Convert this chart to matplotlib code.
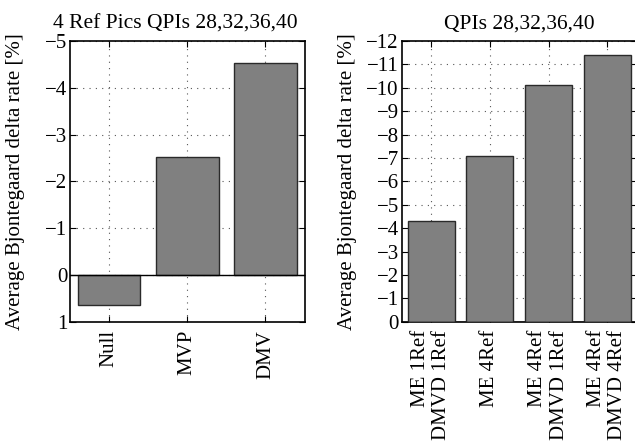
import matplotlib
matplotlib.use("Agg")
import matplotlib.pyplot as plt

plt.rcParams['font.family'] = ['Liberation Serif', 'DejaVu Serif']
plt.rcParams['axes.unicode_minus'] = True

left_title = "4 Ref Pics QPIs 28,32,36,40"
left_cats = ["Null", "MVP", "DMV"]
left_vals = [0.65, -2.52, -4.52]
left_yticks = [-5, -4, -3, -2, -1, 0, 1]

right_title = "QPIs 28,32,36,40"
right_cats = ["ME 1Ref\nDMVD 1Ref", "ME 4Ref", "ME 4Ref\nDMVD 1Ref", "ME 4Ref\nDMVD 4Ref"]
right_vals = [-4.30, -7.08, -10.11, -11.39]
right_yticks = list(range(-12, 1))

ylabel = "Average Bjontegaard delta rate [%]"

fig = plt.figure(figsize=(6.35, 4.46), dpi=100)
W, H = 635, 446
def box(x0, x1, y0, y1):
    return [x0 / W, 1 - y1 / H, (x1 - x0) / W, (y1 - y0) / H]

ax1 = fig.add_axes(box(70, 304.5, 41, 321.7))
ax2 = fig.add_axes(box(401.7, 636.6, 41, 321.7))

fs = 15
for ax, cats, vals, yt, title, ylim, lx, tx in [
    (ax1, left_cats, left_vals, left_yticks, left_title, (1, -5), (25 - 70) / 234.5, 0.448),
    (ax2, right_cats, right_vals, right_yticks, right_title, (0, -12), (357 - 401.7) / 234.9, 0.5),
]:
    x = list(range(1, len(cats) + 1))
    ax.bar(x, vals, width=0.8, color='#808080', edgecolor='#2a2a2a', linewidth=1.0, zorder=3)
    ax.axhline(0, color='black', linewidth=1.0, zorder=4)
    ax.set_xlim(0.5, len(cats) + 0.5)
    ax.set_ylim(*ylim)
    ax.set_yticks(yt)
    ax.set_yticklabels([f"{v:d}".replace('-', '\u2212') for v in yt], fontsize=fs)
    ax.set_xticks(x)
    ax.set_xticklabels(cats, rotation=90, fontsize=fs, multialignment='right', linespacing=1.15)
    ax.grid(True, linestyle=(0, (1, 4.7)), color='#555555', linewidth=0.8, zorder=0)
    ax.tick_params(axis='both', direction='in', top=True, right=True, length=4, width=0.8)
    ax.tick_params(axis='y', pad=2)
    ax.tick_params(axis='x', pad=6)
    for s in ax.spines.values():
        s.set_linewidth(1.2)
    ax.set_title(title, fontsize=15.5, pad=9, x=tx)
    ax.set_ylabel(ylabel, fontsize=fs)
    ax.yaxis.set_label_coords(lx, 0.5)

fig.savefig("out.png", dpi=100)
